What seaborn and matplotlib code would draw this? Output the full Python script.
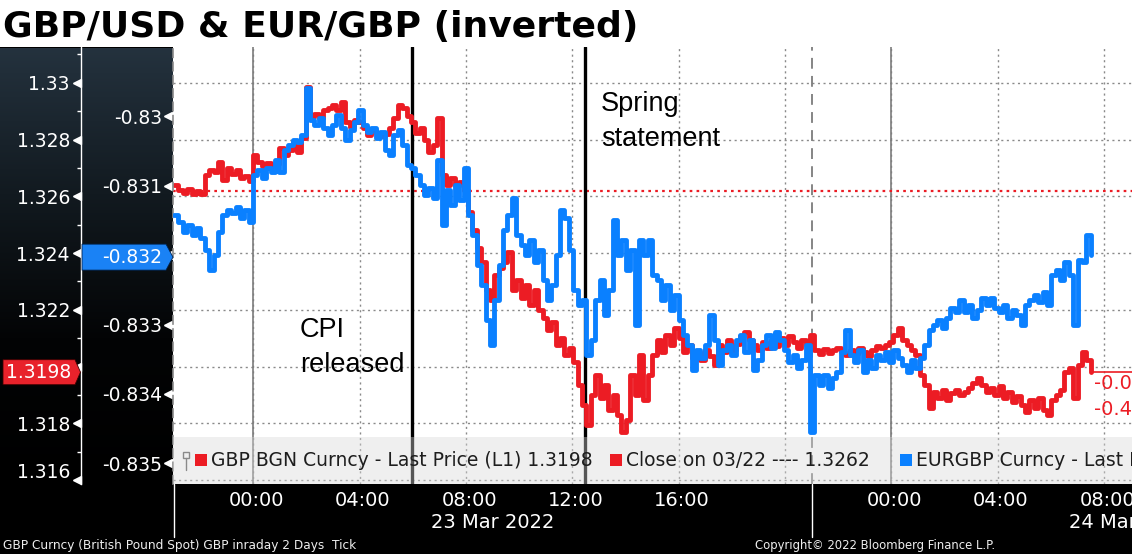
import numpy as np
import pandas as pd
import matplotlib
matplotlib.use("Agg")
import matplotlib.pyplot as plt
import matplotlib.dates as mdates
import matplotlib.ticker as mticker
import matplotlib.transforms as mtrans
from matplotlib.patches import Rectangle, Polygon
from matplotlib.colors import LinearSegmentedColormap
from matplotlib import font_manager
import seaborn as sns

# ---------------- data ----------------
gbpusd = [
    1.32640, 1.32622, 1.32611, 1.32626, 1.32608, 1.32618,
    1.32608, 1.32675, 1.32692, 1.32685, 1.32721, 1.32657,
    1.32699, 1.32678, 1.32692, 1.32664, 1.32671, 1.32654,
    1.32745, 1.32721, 1.32706, 1.32717, 1.32699, 1.32713,
    1.32770, 1.32745, 1.32763, 1.32791, 1.32756, 1.32805,
    1.32985, 1.32879, 1.32890, 1.32876, 1.32904, 1.32911,
    1.32921, 1.32904, 1.32932, 1.32862, 1.32844, 1.32869,
    1.32862, 1.32840, 1.32816, 1.32833, 1.32823, 1.32812,
    1.32819, 1.32840, 1.32876, 1.32921, 1.32911, 1.32883,
    1.32862, 1.32823, 1.32840, 1.32798, 1.32756, 1.32780,
    1.32876, 1.32675, 1.32640, 1.32664, 1.32636, 1.32650,
    1.32622, 1.32544, 1.32481, 1.32417, 1.32368, 1.32269,
    1.32234, 1.32322, 1.32347, 1.32368, 1.32403, 1.32269,
    1.32305, 1.32241, 1.32287, 1.32216, 1.32269, 1.32199,
    1.32171, 1.32128, 1.32157, 1.32075, 1.32100, 1.32040,
    1.32065, 1.32016, 1.31935, 1.31864, 1.31794, 1.31899,
    1.31970, 1.31889, 1.31935, 1.31847, 1.31899, 1.31829,
    1.31769, 1.31811, 1.31970, 1.31899, 1.32040, 1.31882,
    1.31970, 1.32040, 1.32093, 1.32051, 1.32111, 1.32075,
    1.32135, 1.32100, 1.32051, 1.32075, 1.32030, 1.32051,
    1.32023, 1.32058, 1.32037, 1.32005, 1.32075, 1.32051,
    1.32093, 1.32058, 1.32079, 1.32107, 1.32121, 1.32093,
    1.32075, 1.32058, 1.32086, 1.32065, 1.32093, 1.32072,
    1.32100, 1.32075, 1.32107, 1.32086, 1.32065, 1.32093,
    1.32075, 1.32111, 1.32058, 1.32044, 1.32061, 1.32047,
    1.32058, 1.32065, 1.32051, 1.32040, 1.32058, 1.32044,
    1.32065, 1.32051, 1.32037, 1.32058, 1.32072, 1.32065,
    1.32075, 1.32086, 1.32111, 1.32135, 1.32093, 1.32075,
    1.32058, 1.32040, 1.31970, 1.31935, 1.31854, 1.31910,
    1.31889, 1.31917, 1.31882, 1.31906, 1.31917, 1.31899,
    1.31910, 1.31924, 1.31942, 1.31959, 1.31935, 1.31910,
    1.31924, 1.31899, 1.31931, 1.31889, 1.31910, 1.31875,
    1.31896, 1.31864, 1.31840, 1.31882, 1.31854, 1.31889,
    1.31847, 1.31829, 1.31882, 1.31899, 1.31917, 1.31980,
    1.31994, 1.31889, 1.32005, 1.32051, 1.32023, 1.31980,
]
eurgbp = [
    0.83142, 0.83152, 0.83167, 0.83157, 0.83171, 0.83161,
    0.83175, 0.83193, 0.83221, 0.83200, 0.83167, 0.83142,
    0.83135, 0.83139, 0.83131, 0.83146, 0.83135, 0.83152,
    0.83085, 0.83077, 0.83089, 0.83074, 0.83080, 0.83063,
    0.83080, 0.83049, 0.83041, 0.83034, 0.83037, 0.83027,
    0.82959, 0.83005, 0.83013, 0.83002, 0.83017, 0.83027,
    0.83013, 0.82998, 0.83017, 0.83034, 0.83020, 0.83008,
    0.82991, 0.83013, 0.83023, 0.83017, 0.83031, 0.83023,
    0.83049, 0.83056, 0.83027, 0.83020, 0.83041, 0.83070,
    0.83074, 0.83085, 0.83099, 0.83113, 0.83103, 0.83118,
    0.83063, 0.83157, 0.83106, 0.83128, 0.83099, 0.83121,
    0.83074, 0.83142, 0.83171, 0.83214, 0.83243, 0.83294,
    0.83330, 0.83265, 0.83214, 0.83164, 0.83142, 0.83118,
    0.83171, 0.83185, 0.83200, 0.83178, 0.83210, 0.83193,
    0.83236, 0.83265, 0.83243, 0.83200, 0.83135, 0.83146,
    0.83193, 0.83250, 0.83272, 0.83265, 0.83344, 0.83322,
    0.83265, 0.83236, 0.83286, 0.83250, 0.83149, 0.83200,
    0.83178, 0.83221, 0.83193, 0.83301, 0.83178, 0.83200,
    0.83178, 0.83229, 0.83236, 0.83265, 0.83243, 0.83279,
    0.83257, 0.83294, 0.83315, 0.83330, 0.83366, 0.83337,
    0.83348, 0.83330, 0.83286, 0.83322, 0.83358, 0.83337,
    0.83330, 0.83344, 0.83322, 0.83315, 0.83340, 0.83322,
    0.83366, 0.83351, 0.83330, 0.83315, 0.83334, 0.83311,
    0.83322, 0.83337, 0.83354, 0.83344, 0.83363, 0.83351,
    0.83330, 0.83455, 0.83373, 0.83387, 0.83373, 0.83392,
    0.83377, 0.83368, 0.83340, 0.83308, 0.83344, 0.83354,
    0.83337, 0.83368, 0.83351, 0.83363, 0.83344, 0.83351,
    0.83340, 0.83354, 0.83337, 0.83348, 0.83358, 0.83368,
    0.83351, 0.83363, 0.83348, 0.83330, 0.83308, 0.83301,
    0.83294, 0.83305, 0.83291, 0.83276, 0.83282, 0.83265,
    0.83282, 0.83272, 0.83291, 0.83279, 0.83262, 0.83272,
    0.83262, 0.83276, 0.83282, 0.83272, 0.83291, 0.83279,
    0.83286, 0.83301, 0.83272, 0.83265, 0.83257, 0.83268,
    0.83253, 0.83272, 0.83229, 0.83221, 0.83236, 0.83210,
    0.83229, 0.83301, 0.83207, 0.83210, 0.83171, 0.83200,
]
times = pd.date_range("2022-03-22 21:01", "2022-03-24 07:30", periods=len(gbpusd))
close_0322 = 1.3262
last_gbpusd = 1.3198
last_eurgbp_inv = -0.832
gbp_ticks = [1.316, 1.318, 1.320, 1.322, 1.324, 1.326, 1.328, 1.330]
eur_ticks = [-0.835, -0.834, -0.833, -0.832, -0.831, -0.830]
event_times = ["2022-03-23 05:58", "2022-03-23 12:29"]
event_labels = ["CPI\nreleased", "Spring\nstatement"]
session_breaks = ["2022-03-22 21:00", "2022-03-23 21:00"]
midnights = ["2022-03-23 00:00", "2022-03-24 00:00"]
day_labels = ["23 Mar 2022", "24 Mar 2022"]
day_label_times = ["2022-03-23 09:00", "2022-03-24 09:00"]

# ---------------- style ----------------
sns.set_theme(style="white")
plt.rcParams['font.family'] = ['DejaVu Sans']
RED = '#ec1c24'
BLUE = '#0a80ff'
GRID = '#8a8a8a'

available = {f.name for f in font_manager.fontManager.ttflist}
if 'Liberation Sans Narrow' in available:
    ANN_FONT, ANN_SIZE = 'Liberation Sans Narrow', 22
else:
    ANN_FONT, ANN_SIZE = 'Liberation Sans', 19.5

W, H = 1132, 554
fig = plt.figure(figsize=(W / 100, H / 100), dpi=100, facecolor='black')

def fx(px):
    return px / W

def fy(py):
    return 1 - py / H

# white title band
fig.add_artist(Rectangle((0, fy(47)), 1, 47 / H, transform=fig.transFigure,
                         facecolor='white', edgecolor='none', zorder=-5))
fig.text(fx(3), fy(37), "GBP/USD & EUR/GBP (inverted)", fontsize=26,
         fontweight='bold', color='black', va='baseline', ha='left')

# left gradient panel
ax_bg = fig.add_axes([0, fy(484), fx(173), (484 - 48) / H])
ax_bg.set_zorder(-1)
cmap = LinearSegmentedColormap.from_list("bbg", ['#24323e', '#121a20', '#030405', '#000000'])
ax_bg.imshow(np.linspace(0, 1, 256).reshape(-1, 1), aspect='auto', cmap=cmap,
             extent=(0, 1, 0, 1), origin='upper')
ax_bg.axis('off')

# main axes
PX0, PX1, PY0, PY1 = 173, 1132, 47, 484
ax = fig.add_axes([fx(PX0), fy(PY1), fx(PX1) - fx(PX0), (PY1 - PY0) / H])
ax.set_facecolor('white')

def axx(px):
    return (px - PX0) / (PX1 - PX0)

def axy(py):
    return (PY1 - py) / (PY1 - PY0)

sns.lineplot(x=times, y=gbpusd, ax=ax, color=RED, linewidth=3.5, zorder=4,
             drawstyle='steps-post')
ax2 = ax.twinx()
sns.lineplot(x=times, y=-np.asarray(eurgbp), ax=ax2, color=BLUE, linewidth=3.5, zorder=4,
             drawstyle='steps-post')

xmin = pd.Timestamp("2022-03-22 20:58:30")
xmax = pd.Timestamp("2022-03-24 09:03")
ax.set_xlim(xmin, xmax)
ax.set_ylim(1.31586, 1.33126)
ax2.set_ylim(-0.835298, -0.829001)
for a in (ax, ax2):
    a.set_xlabel('')
    a.set_ylabel('')

# grid
ax.set_axisbelow(True)
ax.yaxis.set_major_locator(mticker.FixedLocator(gbp_ticks))
ax.xaxis.set_major_locator(mdates.HourLocator(byhour=range(0, 24, 4)))
ax.xaxis.set_minor_locator(mdates.HourLocator(byhour=range(0, 24, 2)))
ax.grid(True, which='major', axis='both', color=GRID, linestyle=(0, (1.5, 2.5)), linewidth=1.0)
ax2.grid(False)
for m in midnights:
    ax.axvline(pd.Timestamp(m), color='#7c7c7c', lw=1.2, zorder=1)
ax.axvline(pd.Timestamp(session_breaks[1]), color='#7c7c7c', lw=1.3, ls=(0, (6, 4)), zorder=1)

# previous close line
ax.axhline(close_0322, color=RED, lw=1.6, ls=(0, (1.2, 1.9)), zorder=3)
# event lines
for t in event_times:
    ax.axvline(pd.Timestamp(t), color='black', lw=2.4, zorder=3)
# last price line
ax.plot([times[-1], xmax], [last_gbpusd, last_gbpusd], color=RED, lw=1.2, zorder=3)
ax.annotate("-0.0", xy=(mdates.date2num(times[-1]), last_gbpusd), xytext=(3, -11),
            textcoords='offset pixels', color=RED, fontsize=14, ha='left', va='center')
ax.annotate("-0.4", xy=(mdates.date2num(times[-1]), last_gbpusd), xytext=(3, -37),
            textcoords='offset pixels', color=RED, fontsize=14, ha='left', va='center')

# annotations
text_pos = [("2022-03-23 01:45", axy(317)), ("2022-03-23 13:05", axy(91))]
for lab, (tt, yy) in zip(event_labels, text_pos):
    ax2.annotate(lab, xy=(mdates.date2num(pd.Timestamp(tt)), yy),
                 xycoords=('data', 'axes fraction'), ha='left', va='top',
                 fontsize=ANN_SIZE, family=ANN_FONT, color='black',
                 linespacing=1.45, zorder=7)

# spines
for s in ('top', 'right', 'bottom'):
    ax.spines[s].set_visible(False)
    ax2.spines[s].set_visible(False)
ax.spines['left'].set_position(('axes', axx(81)))
ax.spines['left'].set_color('white')
ax.spines['left'].set_linewidth(1.0)
ax2.spines['left'].set_visible(True)
ax2.spines['left'].set_color('#8a8a8a')
ax2.spines['left'].set_linestyle((0, (5, 3)))
ax2.spines['left'].set_linewidth(1.2)

# y axis 1 (GBP/USD)
def make_fmt(last):
    def f(v, p):
        if abs(v - last) < 0.0004:   # hidden behind the last-value flag
            return ''
        return f"{v:.4f}".rstrip('0').rstrip('.')
    return mticker.FuncFormatter(f)

ax.yaxis.set_major_formatter(make_fmt(last_gbpusd))
ax.yaxis.set_minor_locator(mticker.FixedLocator(list(np.array(gbp_ticks) + 0.001)))
ax.tick_params(axis='y', which='major', length=0, pad=8, labelcolor='white', labelsize=13.5)
ax.tick_params(axis='y', which='minor', length=3, width=1, color='white', direction='out')
tr1 = mtrans.blended_transform_factory(ax.transAxes, ax.transData)
ax.plot([axx(77)] * len(gbp_ticks), gbp_ticks, transform=tr1, ls='none', marker='<',
        ms=5.5, color='white', clip_on=False)
lbls = ax.yaxis.get_majorticklabels()
if lbls:
    lbls[0].set_transform(lbls[0].get_transform() +
                          mtrans.ScaledTranslation(0, 10 / 100, fig.dpi_scale_trans))

# y axis 2 (EUR/GBP inverted)
ax2.yaxis.tick_left()
ax2.yaxis.set_major_locator(mticker.FixedLocator(eur_ticks))
ax2.yaxis.set_major_formatter(make_fmt(last_eurgbp_inv))
ax2.tick_params(axis='y', which='major', length=0, pad=8, labelcolor='white', labelsize=13.5,
                left=True, right=False, labelleft=True, labelright=False)
tr2 = mtrans.blended_transform_factory(ax2.transAxes, ax2.transData)
ax2.plot([axx(168)] * len(eur_ticks), eur_ticks, transform=tr2, ls='none', marker='<',
         ms=5.5, color='white', clip_on=False)

# x axis
def xfmt(v, p):
    d = mdates.num2date(v)
    return '' if d.hour == 20 else d.strftime('%H:%M')
ax.xaxis.set_major_formatter(mticker.FuncFormatter(xfmt))
ax.tick_params(axis='x', which='both', length=3, width=1, color='white', direction='out',
               labelcolor='white', labelsize=14, pad=2)
off = mtrans.ScaledTranslation(3 / 100, 0, fig.dpi_scale_trans)
for lbl in ax.xaxis.get_majorticklabels():
    lbl.set_transform(lbl.get_transform() + off)
trx = mtrans.blended_transform_factory(ax.transData, ax.transAxes)
for sb in session_breaks:
    t = mdates.date2num(pd.Timestamp(sb))
    ax.plot([t, t], [0, axy(537)], transform=trx, color='white', lw=1, clip_on=False)
for lab, t in zip(day_labels, day_label_times):
    ax.annotate(lab, xy=(mdates.date2num(pd.Timestamp(t)), axy(523)),
                xycoords=('data', 'axes fraction'), ha='center', va='center',
                color='white', fontsize=14, annotation_clip=False)

# legend band
ax2.add_patch(Rectangle((0, 0), 1, axy(437), transform=ax2.transAxes,
                        facecolor='#d8d8d8', alpha=0.4, edgecolor='none', zorder=5))
ax2.plot([axx(186), axx(186)], [axy(458), axy(470)], transform=ax2.transAxes,
         color='#8a8a8a', lw=1, zorder=6)
ax2.add_patch(Rectangle((axx(183), axy(458)), 6 / 959, 6 / 437, transform=ax2.transAxes,
                        facecolor='none', edgecolor='#8a8a8a', lw=1, zorder=6))
legend_items = [
    (195, RED, f"GBP BGN Curncy - Last Price (L1) {last_gbpusd:.4f}"),
    (610, RED, f"Close on 03/22 ---- {close_0322:.4f}"),
    (900, BLUE, f"EURGBP Curncy - Last Price (L2) {last_eurgbp_inv:.4f}"),
]
for px, col, txt in legend_items:
    ax2.add_patch(Rectangle((axx(px), axy(466)), 12 / 959, 12 / 437, transform=ax2.transAxes,
                            facecolor=col, edgecolor='none', zorder=6))
    ax2.text(axx(px + 16), axy(461), txt, transform=ax2.transAxes, ha='left', va='center',
             fontsize=13.5, color='#1e1e1e', zorder=6)

# last-value flags on the axes
def py_of(a, v):
    return H - a.transData.transform((0, v))[1]

yc = py_of(ax, last_gbpusd)
pts = [(3, yc - 12.5), (75, yc - 12.5), (80.5, yc), (75, yc + 12.5), (3, yc + 12.5)]
fig.add_artist(Polygon([(fx(x), fy(y)) for x, y in pts], closed=True, transform=fig.transFigure,
                       facecolor='#e8222b', edgecolor='#400000', lw=0.6, zorder=2))
fig.text(fx(71), fy(yc), f"{last_gbpusd:.4f}", color='white', fontsize=13.5,
         ha='right', va='center', zorder=3)

yc2 = py_of(ax2, last_eurgbp_inv) + 2
pts2 = [(82, yc2 - 13), (166, yc2 - 13), (173, yc2), (166, yc2 + 13), (82, yc2 + 13)]
fig.add_artist(Polygon([(fx(x), fy(y)) for x, y in pts2], closed=True, transform=fig.transFigure,
                       facecolor='#1a82f5', edgecolor='#00204a', lw=0.6, zorder=2))
fig.text(fx(162), fy(yc2), f"{last_eurgbp_inv:.3f}", color='white', fontsize=13.5,
         ha='right', va='center', zorder=3)

# footer
fig.text(fx(3), fy(545), "GBP Curncy (British Pound Spot) GBP inraday 2 Days  Tick",
         color='#eeeeee', fontsize=8.7, ha='left', va='center')
fig.text(fx(755), fy(545), "Copyright\u00a9 2022 Bloomberg Finance L.P.",
         color='#eeeeee', fontsize=8.4, ha='left', va='center')

fig.savefig("out.png", dpi=100, facecolor='black')
